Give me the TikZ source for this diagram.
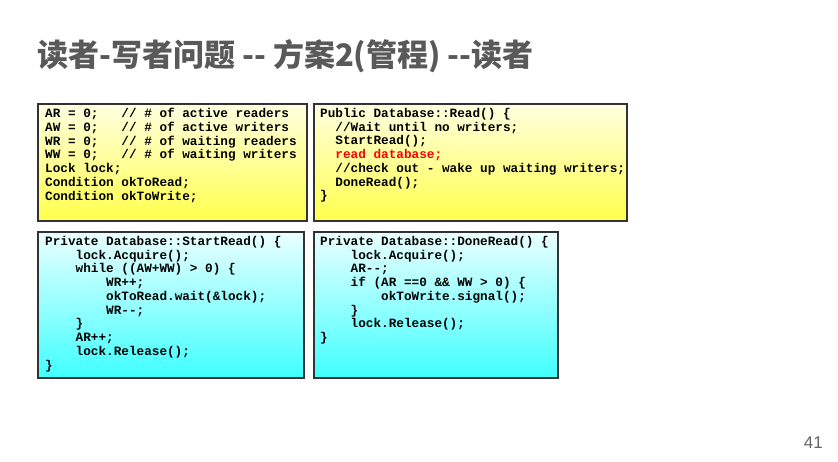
\documentclass[tikz,border=0pt]{standalone}
\usepackage{fontspec}
\setmonofont{Liberation Mono}
\newfontfamily\cjk{Noto Sans CJK SC}
\newfontfamily\lsans{Liberation Sans}
\begin{document}
\begin{tikzpicture}[x=1pt,y=-1pt,
  box/.style={draw=black!80,line width=1.2pt},
  yel/.style={box,top color=yellow!12,bottom color=yellow!70},
  cy/.style={box,top color=cyan!8,bottom color=cyan!75},
  code/.style={anchor=north west,inner sep=0pt,align=left,font=\fontsize{12.7}{13.75}\selectfont\ttfamily\bfseries}]
\useasboundingbox (0,0) rectangle (838,461);
\fill[white] (0,0) rectangle (838,461);
\node[anchor=west,inner sep=0pt,text=black!65,font=\fontsize{31}{33}\selectfont\cjk\bfseries] (title) at (37,56) {读者-写者问题 -- 方案2(管程) --读者};
\node[anchor=east,inner sep=0pt,text=black!60,font=\fontsize{17}{18}\selectfont\lsans] (pg) at (823,443) {41};
\draw[yel] (38,104) rectangle (307,221);
\draw[yel] (314,104) rectangle (627,221);
\draw[cy] (38,232) rectangle (304,378);
\draw[cy] (314,232) rectangle (558,378);
\node[code] (c1) at (45,108) {AR = 0;~~~// \# of active readers\\AW = 0;~~~// \# of active writers\\WR = 0;~~~// \# of waiting readers\\WW = 0;~~~// \# of waiting writers\\Lock lock;\\Condition okToRead;\\Condition okToWrite;};
\node[code] (c2) at (320,108) {Public Database::Read() \{\\~~//Wait until no writers;\\~~StartRead();\\~~\textcolor{red}{read database;}\\~~//check out - wake up waiting writers;\\~~DoneRead();\\\}};
\node[code] (c3) at (45,236) {Private Database::StartRead() \{\\~~~~lock.Acquire();\\~~~~while ((AW+WW) > 0) \{\\~~~~~~~~WR++;\\~~~~~~~~okToRead.wait(\&lock);\\~~~~~~~~WR--;\\~~~~\}\\~~~~AR++;\\~~~~lock.Release();\\\}};
\node[code] (c4) at (320,236) {Private Database::DoneRead() \{\\~~~~lock.Acquire();\\~~~~AR--;\\~~~~if (AR ==0 \&\& WW > 0) \{\\~~~~~~~~okToWrite.signal();\\~~~~\}\\~~~~lock.Release();\\\}};
\end{tikzpicture}
\end{document}
